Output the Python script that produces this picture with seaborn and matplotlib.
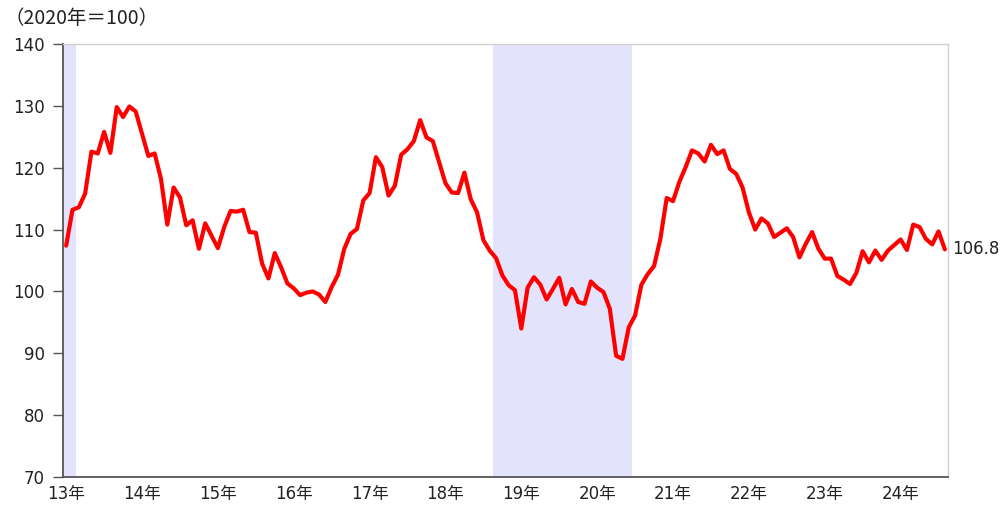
import matplotlib
matplotlib.use("Agg")
import matplotlib.pyplot as plt
import seaborn as sns
import pandas as pd

# 月次データ 2013年1月〜2024年8月（2020年＝100）
values = [
    107.4, 113.2, 113.6, 115.8, 122.6, 122.3, 125.8, 122.4, 129.8, 128.2, 129.9, 129.1,
    125.5, 121.9, 122.3, 118.2, 110.8, 116.8, 115.2, 110.7, 111.5, 106.9, 111.0, 109.0,
    107.0, 110.4, 113.0, 112.9, 113.2, 109.6, 109.5, 104.5, 102.1, 106.2, 103.9, 101.3,
    100.5, 99.4, 99.8, 100.0, 99.5, 98.3, 100.7, 102.7, 106.9, 109.3, 110.1, 114.7,
    115.9, 121.7, 120.1, 115.5, 117.1, 122.1, 123.0, 124.3, 127.7, 124.9, 124.3, 120.9,
    117.5, 116.0, 115.9, 119.2, 114.9, 112.8, 108.3, 106.6, 105.4, 102.6, 101.0, 100.2,
    94.0, 100.6, 102.3, 101.1, 98.7, 100.4, 102.2, 97.9, 100.4, 98.3, 98.0, 101.6,
    100.6, 99.9, 97.2, 89.6, 89.1, 94.2, 96.1, 101.1, 102.8, 104.1, 108.5, 115.1,
    114.6, 117.7, 120.1, 122.8, 122.3, 121.0, 123.7, 122.2, 122.8, 119.8, 119.0, 116.8,
    112.8, 110.0, 111.8, 111.0, 108.8, 109.5, 110.2, 108.8, 105.5, 107.7, 109.6, 106.9,
    105.3, 105.3, 102.5, 101.9, 101.2, 103.0, 106.5, 104.7, 106.6, 105.1, 106.6, 107.5,
    108.4, 106.7, 110.8, 110.4, 108.5, 107.6, 109.7, 106.8,
]
year_labels = ["13年", "14年", "15年", "16年", "17年", "18年",
               "19年", "20年", "21年", "22年", "23年", "24年"]
# 景気後退期（月インデックスの範囲）
recessions = [(-0.5, 1.5), (67.5, 89.5)]

df = pd.DataFrame({"month": range(len(values)), "value": values})

sns.set_style("white")
plt.rcParams['font.family'] = ['DejaVu Sans', 'Noto Sans CJK JP']

fig = plt.figure(figsize=(10.05, 5.16), dpi=100)
ax = fig.add_axes([63 / 1005, 1 - 477 / 516, 885 / 1005, 433 / 516])

for start, end in recessions:
    ax.axvspan(start, end, color="#e3e3fb", lw=0, zorder=0)

sns.lineplot(data=df, x="month", y="value", color="#ff0000", lw=3, ax=ax)

ax.set_xlim(-0.5, len(values) - 0.5)
ax.set_ylim(70, 140)
ax.set_yticks(range(70, 141, 10))
ax.set_xticks(range(0, len(values), 12))
ax.set_xticklabels(year_labels)
ax.set_xlabel("")
ax.set_ylabel("")

ax.tick_params(axis="y", length=7, width=1, color="#555555", pad=6,
               labelsize=12, labelcolor="#222222", left=True)
ax.tick_params(axis="x", length=0, pad=6, labelsize=12, labelcolor="#222222")

for side in ["left", "bottom"]:
    ax.spines[side].set_color("#555555")
    ax.spines[side].set_linewidth(1.3)
for side in ["top", "right"]:
    ax.spines[side].set_color("#cfcfcf")
    ax.spines[side].set_linewidth(1.0)

# 単位表示
fig.text(4 / 1005, 1 - 18 / 516, "（2020年＝100）", fontsize=14, color="#222222",
         va="center", ha="left", family=['Noto Sans CJK JP', 'DejaVu Sans'])
ax.annotate(f"{values[-1]:.1f}", xy=(len(values) - 1, values[-1]),
            xytext=(5, 0), textcoords="offset points",
            fontsize=12, color="#222222", va="center", ha="left",
            annotation_clip=False)

fig.savefig("out.png", dpi=100)
